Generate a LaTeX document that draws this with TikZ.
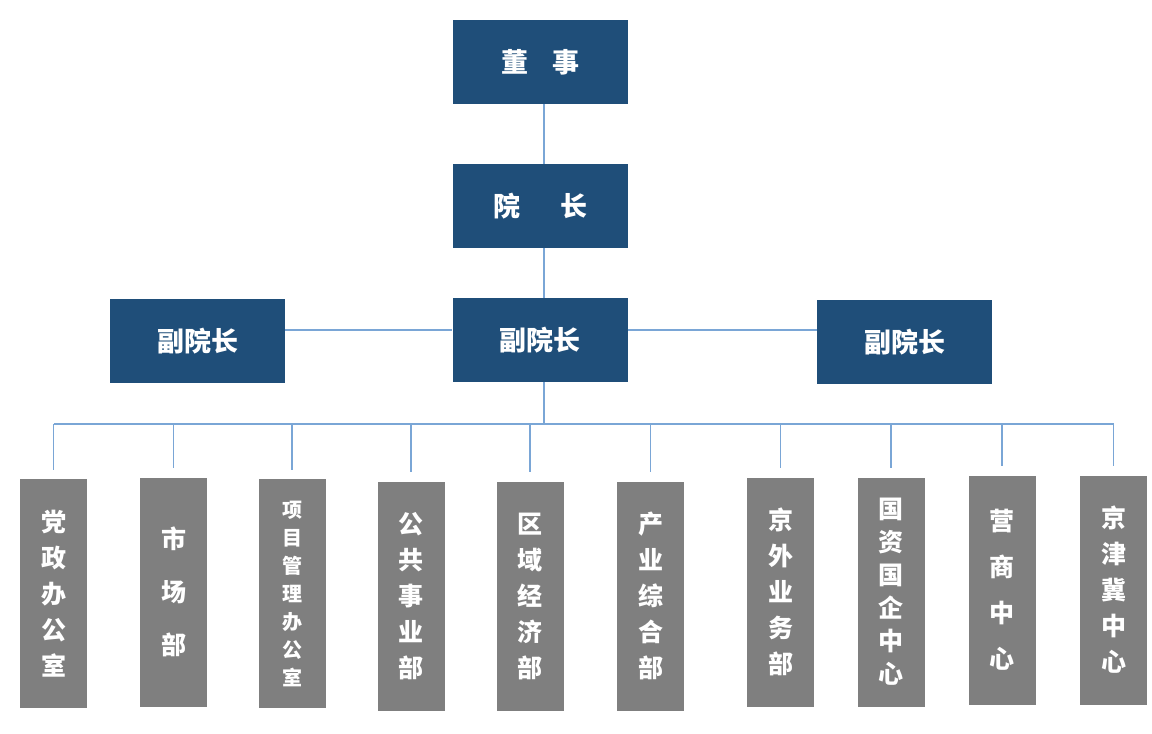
\documentclass[tikz,border=0pt]{standalone}
\usepackage{fontspec}
\usepackage{tikz}
\newfontfamily\cjk{Noto Sans CJK SC}
\definecolor{headblue}{RGB}{31,78,121}
\definecolor{deptgray}{RGB}{127,127,127}
\definecolor{linkblue}{RGB}{122,166,214}

\begin{document}
\begin{tikzpicture}[x=1pt, y=-1pt,
    head/.style={fill=headblue, text=white, minimum width=175, minimum height=84, inner sep=0,
        font={\cjk\bfseries\fontsize{27}{30}\selectfont}},
    dept/.style={fill=deptgray, text=white, minimum width=67, minimum height=229, inner sep=0,
        align=center, font={\cjk\bfseries\fontsize{25}{36}\selectfont}},
    link/.style={draw=linkblue, line width=1.3}]
            \useasboundingbox (0, 0) rectangle (1152, 734);

            % leadership
            \node[head] (board) at (540.5, 62) {董\hspace{0.9em}事};
            \node[head] (pres) at (540.5, 206) {院\hspace{1.5em}长};
            \node[head] (vp) at (540, 340) {副院长};
            \node[head] (vpL) at (197.5, 341) {副院长};
            \node[head] (vpR) at (904.5, 342) {副院长};

            % departments
            \node[dept] (d1) at (53.5, 593.5) {党\\政\\办\\公\\室};
            \node[dept, font={\cjk\bfseries\fontsize{25}{53}\selectfont}] (d2) at (173.5, 592) {市\\场\\部};
            \node[dept, font={\cjk\bfseries\fontsize{20}{28}\selectfont}] (d3) at (292, 593.5) {项\\目\\管\\理\\办\\公\\室};
            \node[dept] (d4) at (411, 596) {公\\共\\事\\业\\部};
            \node[dept] (d5) at (530, 596) {区\\域\\经\\济\\部};
            \node[dept] (d6) at (650.5, 596) {产\\业\\综\\合\\部};
            \node[dept] (d7) at (780.5, 592) {京\\外\\业\\务\\部};
            \node[dept, font={\cjk\bfseries\fontsize{25}{33}\selectfont}] (d8) at (891, 592) {国\\资\\国\\企\\中\\心};
            \node[dept, font={\cjk\bfseries\fontsize{25}{46}\selectfont}] (d9) at (1002, 590) {营\\商\\中\\心};
            \node[dept] (d10) at (1113.5, 590) {京\\津\\冀\\中\\心};

            \coordinate (bus) at (544, 424);
            \coordinate (mid) at (544, 330);

            \draw[link] (board.south -| bus) -- (pres.north -| bus);
            \draw[link] (pres.south -| bus) -- (vp.north -| bus);
            \draw[link] (vpL.east |- mid) -- (vp.west |- mid);
            \draw[link] (vp.east |- mid) -- (vpR.west |- mid);
            \draw[link] (vp.south -| bus) -- (bus);
            \draw[link] (d1.north |- bus) -- (d10.north |- bus);
            \foreach \i in {1,...,10}
                \draw[link] (d\i.north |- bus) -- ([yshift=9pt]d\i.north);
        \end{tikzpicture}
\end{document}
